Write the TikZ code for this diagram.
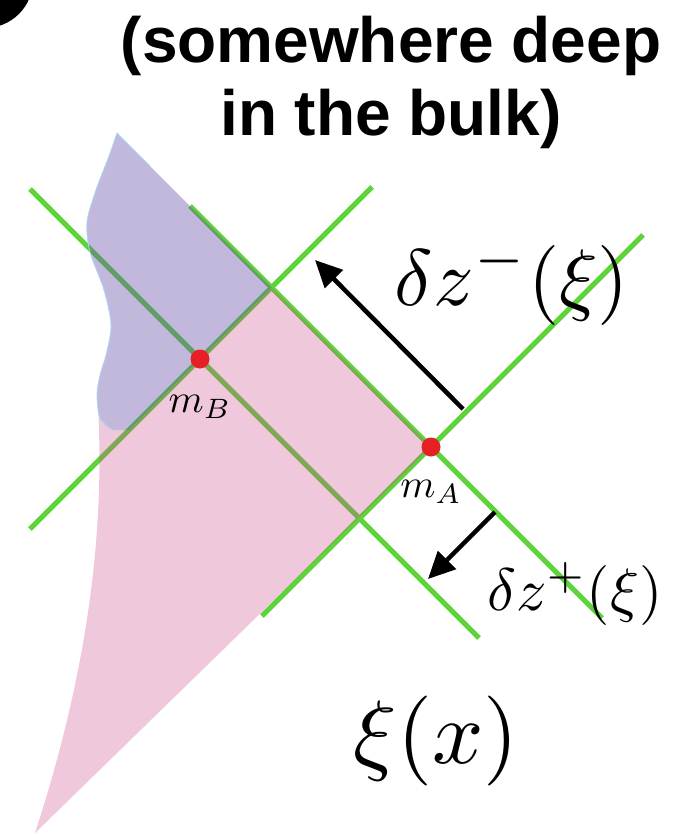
\documentclass[tikz,border=0pt]{standalone}
\usepackage{fontspec}
\newfontfamily\titlefont{Liberation Sans}
\usetikzlibrary{arrows.meta}
\definecolor{conegreen}{RGB}{94,211,58}
\definecolor{wedgepink}{RGB}{205,72,138}
\definecolor{wedgeblue}{RGB}{102,78,168}
\definecolor{blueedge}{RGB}{170,215,245}
\definecolor{dotred}{RGB}{230,32,36}
\begin{document}
\begin{tikzpicture}[x=1pt, y=-1pt,
		cone/.style={conegreen, line width=5pt},
		shiftarrow/.style={line width=4.5pt, -{Triangle[length=27pt,width=25pt]}},
		point/.style={circle, fill=dotred, minimum size=19pt, inner sep=0pt},
		mathlabel/.style={anchor=base, inner sep=0pt, font=\fontsize{10}{10}\selectfont}]
			\useasboundingbox (0,0) rectangle (673,835);
			\clip (0,0) rectangle (673,835);
			\fill (-15,-20) circle (48);
			\coordinate (mA) at (431,447);
			\coordinate (mB) at (200,359);
			\coordinate (top) at (271.5,287.5);
			\coordinate (low) at (359.5,518.5);
			\coordinate (tip) at (35,833);
			\draw[cone] (30,189) -- (mB) -- (479,638);
			\draw[cone] (372,187) -- (mB) -- (30,529);
			\draw[cone] (190,206) -- (mA) -- (602,618);
			\draw[cone] (643,235) -- (mA) -- (262,616);
			\fill[wedgepink, opacity=0.3] (top) -- (mA) -- (tip)
				.. controls (98,640) and (103,500) .. (98,405)
				-- plot[smooth] coordinates {(98,405) (100,418) (112,429.5) (129,430)} -- cycle;
			\fill[wedgeblue, opacity=0.4] (117,133) -- (top) -- (129,430)
				-- plot[smooth] coordinates {(129,430) (112,429.5) (100,418) (97,395) (100,375) (106,355) (111,325) (104,290) (90,252) (87,222) (96,190) (109,156) (117,133)} -- cycle;
			\draw[blueedge, line width=0.8pt] plot[smooth] coordinates {(112,429.5) (100,418) (97,395) (100,375) (106,355) (111,325) (104,290) (90,252) (87,222) (96,190) (109,156) (117,133)} -- (150,166);
			\coordinate (dmtail) at (463,409);
			\coordinate (dmtip) at (315,260);
			\coordinate (dptail) at (495,512);
			\coordinate (dptip) at (428,579);
			\draw[shiftarrow] (dmtail) -- (dmtip);
			\draw[shiftarrow] (dptail) -- (dptip);
			\node[point] (pB) at (mB) {};
			\node[point] (pA) at (mA) {};
			\node[mathlabel, scale=4] (labB) at (200,412) {$m_B$};
			\node[mathlabel, scale=4] (labA) at (431,497) {$m_A$};
			\node[mathlabel, scale=8] (dzminus) at (512,305) {$\delta z^-(\xi)$};
			\node[mathlabel, scale=6] (dzplus) at (575,610) {$\delta z^+(\xi)$};
			\node[mathlabel, scale=9] (xix) at (436,763) {$\xi(x)$};
			\node[anchor=base, inner sep=0pt, font=\titlefont\bfseries\fontsize{64}{64}\selectfont] (title1) at (391,62) {(somewhere deep};
			\node[anchor=base, inner sep=0pt, font=\titlefont\bfseries\fontsize{64}{64}\selectfont] (title2) at (391,135) {in the bulk)};
		\end{tikzpicture}
\end{document}
